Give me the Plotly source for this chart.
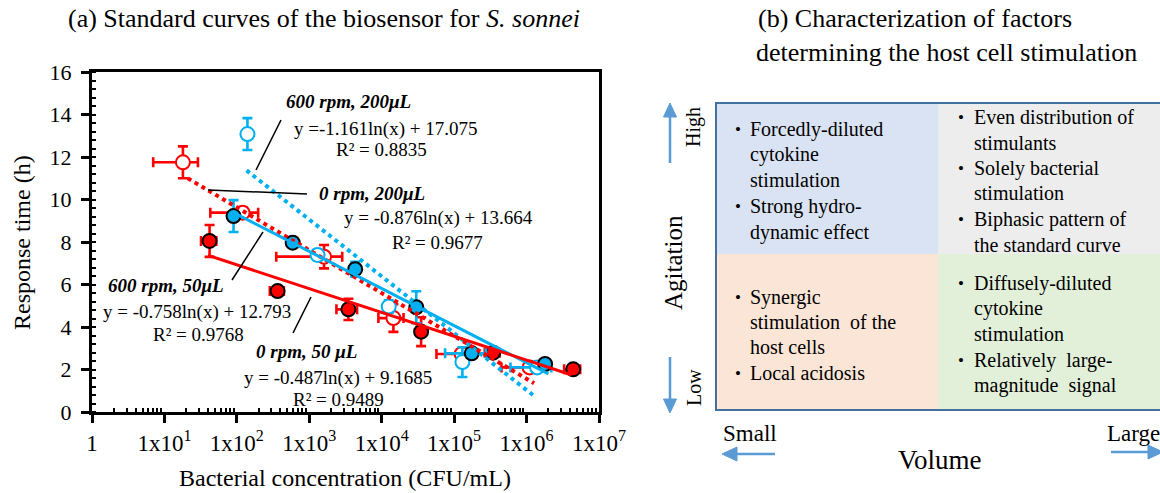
import math
import plotly.graph_objects as go

W, H = 1160, 493
FONT = "Liberation Serif"
RED = "#FF0000"
BLUE = "#00B0F0"
ARROW = "#5B9BD5"

# ---------------- data (panel a) ----------------
# 0 rpm, 200 uL (open red)
r200_x = [18, 120, 1600, 14500, 1.27e5, 1.1e6]
r200_y = [11.75, 9.38, 7.31, 4.42, 2.73, 2.10]
r200_ex = [11, 77, 1250, 5500, 7e4, 6.5e5]
r200_ey = [0.75, 0.25, 0.55, 0.65, 0.2, 0.2]

# 0 rpm, 50 uL (filled red)
r50_x = [42, 365, 3470, 3.5e4, 3.45e5, 4.4e6]
r50_y = [8.05, 5.69, 4.83, 3.78, 2.79, 2.01]
r50_ex = [10, 80, 1100, 0, 8e4, 1.1e6]
r50_ey = [0.75, 0.2, 0.5, 0.68, 0.2, 0.2]

# 600 rpm, 200 uL (open blue)
b200_x = [140, 1300, 12500, 1.3e5, 1.4e6]
b200_y = [13.08, 7.39, 4.96, 2.35, 2.10]
b200_ex = [0, 0, 0, 0, 8e5]
b200_ey = [0.75, 0.25, 0.3, 0.7, 0.2]

# 600 rpm, 50 uL (filled blue)
b50_x = [90, 590, 4300, 3.0e4, 1.75e5, 1.8e6]
b50_y = [9.22, 7.97, 6.72, 4.93, 2.76, 2.26]
b50_ex = [0, 0, 0, 0, 1e5, 0]
b50_ey = [0.75, 0.15, 0.35, 0.75, 0.2, 0.2]

# logarithmic trendlines y = a ln(x) + b, drawn over the given x range
fit_names = ["600 rpm, 200", "0 rpm, 200", "600 rpm, 50", "0 rpm, 50"]
fit_a = [-1.161, -0.876, -0.758, -0.487]
fit_b = [17.075, 13.664, 12.793, 9.1685]
fit_xmin = [136, 21, 90, 40]
fit_xmax = [1.27e6, 1.27e6, 2.0e6, 4.2e6]

x_tickvals = [1, 1e1, 1e2, 1e3, 1e4, 1e5, 1e6, 1e7]
x_ticktext = ["1"] + ["1x10<sup>%d</sup>" % k for k in range(1, 8)]

fig = go.Figure()


def add_points(xs, ys, ex, ey, color, filled):
    fig.add_trace(go.Scatter(
        x=xs, y=ys, mode="markers",
        marker=dict(size=14, color=color if filled else "white",
                    line=dict(color="black" if filled else color, width=2)),
        error_x=dict(type="data", array=ex, color=color, thickness=2.6, width=5),
        error_y=dict(type="data", array=ey, color=color, thickness=2.6, width=5),
        hoverinfo="skip",
    ))


add_points(r200_x, r200_y, r200_ex, r200_ey, RED, False)
add_points(b200_x, b200_y, b200_ex, b200_ey, BLUE, False)
add_points(r50_x, r50_y, r50_ex, r50_ey, RED, True)
add_points(b50_x, b50_y, b50_ex, b50_ey, BLUE, True)

fit_style = [(BLUE, "4px,4px", 4), (RED, "4px,4px", 4), (BLUE, "solid", 3), (RED, "solid", 3)]
for a, b, x0, x1, (c, d, w) in zip(fit_a, fit_b, fit_xmin, fit_xmax, fit_style):
    xs = [x0, x1]
    ys = [a * math.log(v) + b for v in xs]
    fig.add_trace(go.Scatter(x=xs, y=ys, mode="lines",
                             line=dict(color=c, width=w, dash=d), hoverinfo="skip"))

# ---------------- axes ----------------
x0p, x1p = 92 / W, 599 / W
y0p, y1p = 1 - 412 / H, 1 - 72 / H
minor_x = [m * 10 ** k for k in range(0, 7) for m in range(2, 10)]
fig.update_xaxes(
    type="log", range=[0, 7], domain=[x0p, x1p],
    tickmode="array", tickvals=x_tickvals, ticktext=x_ticktext,
    ticks="outside", ticklen=8, tickwidth=3, tickcolor="black",
    minor=dict(tickmode="array", tickvals=minor_x, ticks="inside", ticklen=4,
               tickwidth=2, tickcolor="black", showgrid=False),
    showline=True, linewidth=3, linecolor="black", mirror=True,
    showgrid=False, zeroline=False, automargin=False,
    tickfont=dict(family=FONT, size=23, color="black"),
)
fig.update_yaxes(
    range=[0, 16], domain=[y0p, y1p], dtick=2,
    ticks="outside", ticklen=8, tickwidth=3, tickcolor="black",
    ticklabelstandoff=5,
    minor=dict(dtick=0.4, ticks="inside", ticklen=4, tickwidth=2,
               tickcolor="black", showgrid=False),
    showline=True, linewidth=3, linecolor="black", mirror=True,
    showgrid=False, zeroline=False, automargin=False,
    tickfont=dict(family=FONT, size=22, color="black"),
)

annotations = []
shapes = []


def px(x):
    return x / W


def py(y):
    return 1 - y / H


def text(x, y, s, size=19, anchor="left", bold=False, italic=False, angle=0):
    if italic:
        s = "<i>" + s + "</i>"
    if bold:
        s = "<b>" + s + "</b>"
    annotations.append(dict(x=px(x), y=py(y), xref="paper", yref="paper", text=s,
                            showarrow=False, xanchor=anchor, yanchor="middle",
                            textangle=angle, borderpad=0,
                            font=dict(family=FONT, size=size, color="black")))


def seg(x0, y0, x1, y1, color="black", width=1.5):
    shapes.append(dict(type="line", xref="paper", yref="paper",
                       x0=px(x0), y0=py(y0), x1=px(x1), y1=py(y1),
                       line=dict(color=color, width=width)))


def tri(pts, color):
    path = "M " + " L ".join("%f,%f" % (px(a), py(b)) for a, b in pts) + " Z"
    shapes.append(dict(type="path", xref="paper", yref="paper", path=path,
                       fillcolor=color, line=dict(color=color, width=1)))


# panel a titles and labels
text(324, 18, "(a) Standard curves of the biosensor for <i>S. sonnei</i>", size=26, anchor="center")
text(345, 478, "Bacterial concentration (CFU/mL)", size=24, anchor="center")
text(22, 243, "Response time (h)", size=24, anchor="center", angle=-90)

text(285, 102, "600 rpm, 200μL", bold=True, italic=True)
text(293, 129, "y =-1.161ln(x) + 17.075")
text(335, 149, "R² = 0.8835")
seg(281, 120, 256, 170)

text(318, 193, "0 rpm, 200μL", bold=True, italic=True)
text(343, 218, "y = -0.876ln(x) + 13.664")
text(391, 242, "R² = 0.9677")
seg(208, 190, 307, 194)

text(107, 285, "600 rpm, 50μL", bold=True, italic=True)
text(102, 312, "y = -0.758ln(x) + 12.793")
text(152, 334, "R² = 0.9768")
seg(232, 280, 263, 232)

text(255, 351, "0 rpm, 50 μL", bold=True, italic=True)
text(243, 378, "y = -0.487ln(x) + 9.1685")
text(292, 399, "R² = 0.9489")
seg(293, 333, 311, 297)

# ---------------- panel b ----------------
text(915, 18, "(b) Characterization of factors", size=26, anchor="center")
text(946, 52, "determining the host cell stimulation", size=26, anchor="center")

quads = [
    (716, 938, 103, 254, "#DAE3F3"),
    (938, 1165, 103, 254, "#EDEDED"),
    (716, 938, 254, 410, "#FBE5D6"),
    (938, 1165, 254, 410, "#E2F0D9"),
]
for xa, xb, ya, yb, col in quads:
    shapes.append(dict(type="rect", xref="paper", yref="paper", x0=px(xa), x1=px(xb),
                       y0=py(yb), y1=py(ya), fillcolor=col, line=dict(width=0), layer="below"))
shapes.append(dict(type="rect", xref="paper", yref="paper", x0=px(716), x1=px(1166),
                   y0=py(410), y1=py(103), line=dict(color="#41719C", width=2)))

tl = [("•", "Forcedly-diluted", 129), (None, "cytokine", 154), (None, "stimulation", 180),
      ("•", "Strong hydro-", 207), (None, "dynamic effect", 232)]
tr = [("•", "Even distribution of", 117), (None, "stimulants", 143),
      ("•", "Solely bacterial", 168), (None, "stimulation", 193),
      ("•", "Biphasic pattern of", 219), (None, "the standard curve", 245)]
bl = [("•", "Synergic", 297), (None, "stimulation  of the", 322), (None, "host cells", 347),
      ("•", "Local acidosis", 373)]
br = [("•", "Diffusely-diluted", 283), (None, "cytokine", 308), (None, "stimulation", 334),
      ("•", "Relatively  large-", 360), (None, "magnitude  signal", 385)]
for items, bx, tx in [(tl, 734, 749), (bl, 734, 749), (tr, 957, 973), (br, 957, 973)]:
    for bullet, s, yy in items:
        if bullet:
            text(bx, yy, bullet, size=17)
        text(tx, yy, s, size=20)

text(673, 263, "Agitation", size=25, anchor="center", angle=-90)
text(694, 127, "High", size=20, anchor="center", angle=-90)
text(694, 388, "Low", size=20, anchor="center", angle=-90)
text(750, 433, "Small", size=23, anchor="center")
text(1133, 433, "Large", size=23, anchor="center")
text(940, 460, "Volume", size=27, anchor="center")

# arrows (line + triangular head)
seg(670, 163, 670, 114, ARROW, 2.5)
tri([(670, 103), (663.5, 117), (676.5, 117)], ARROW)
seg(670, 357, 670, 401, ARROW, 2.5)
tri([(670, 413), (663.5, 399), (676.5, 399)], ARROW)
seg(775, 454, 734, 454, ARROW, 2.5)
tri([(722, 454), (737, 447), (737, 461)], ARROW)
seg(1111, 452, 1150, 452, ARROW, 2.5)
tri([(1163, 452), (1148, 445), (1148, 459)], ARROW)

fig.update_layout(
    width=W, height=H, margin=dict(l=0, r=0, t=0, b=0, autoexpand=False),
    paper_bgcolor="white", plot_bgcolor="white", showlegend=False,
    annotations=annotations, shapes=shapes,
    font=dict(family=FONT, color="black"),
)

post = (
    "document.documentElement.style.margin='0';"
    "document.body.style.margin='0';"
    "document.body.style.overflow='hidden';"
    "document.documentElement.style.overflow='hidden';"
    "var d=document.querySelector('.plotly-graph-div');"
    "d.style.position='absolute';d.style.left='0px';d.style.top='0px';"
)
fig.write_html("out.html", post_script=post, config={"displayModeBar": False})
